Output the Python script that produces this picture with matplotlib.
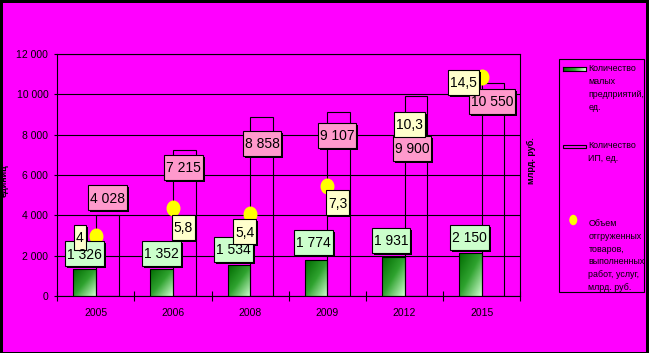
import numpy as np
import matplotlib
matplotlib.use("Agg")
import matplotlib.pyplot as plt
from matplotlib.patches import Rectangle, Ellipse
from matplotlib.colors import LinearSegmentedColormap
from matplotlib.transforms import IdentityTransform, Affine2D
from matplotlib.path import Path

# ---------------- data ----------------
years = ['2005', '2006', '2008', '2009', '2012', '2015']
small_enterprises = [1326, 1352, 1534, 1774, 1931, 2150]
small_labels = ['1 326', '1 352', '1 534', '1 774', '1 931', '2 150']
ip_count = [4028, 7215, 8858, 9107, 9900, 10550]
ip_labels = ['4 028', '7 215', '8 858', '9 107', '9 900', '10 550']
volume = [4.0, 5.8, 5.4, 7.3, 10.3, 14.5]
volume_labels = ['4', '5,8', '5,4', '7,3', '10,3', '14,5']
yticks = [0, 2000, 4000, 6000, 8000, 10000, 12000]
ytick_labels = ['0', '2 000', '4 000', '6 000', '8 000', '10 000', '12 000']

# label offsets (pixels)
small_off = [(0, 14.5), (0, 14.3), (-5.5, 14.8), (-2.2, 17), (-2, 15.8), (-0.5, 14.4)]
ip_off = [(-0.1, 16), (-0.5, -18), (0.4, -27), (-1.8, -24), (-3.8, -53), (-1.1, -19)]
vol_off = [(-16, -2.9), (10.2, -20.1), (-5.5, -18.3), (10.3, -18.2), (4.7, 15.2), (-18.3, -6.5)]

MAG = '#FF00FF'
FONT = ['Liberation Sans Narrow', 'Liberation Sans', 'DejaVu Sans']
plt.rcParams['font.family'] = FONT

W, H = 649, 353
fig = plt.figure(figsize=(W / 100, H / 100), dpi=100, facecolor=MAG)

def fx(px):
    return px / W

def fy(py):
    return 1 - py / H

ax = fig.add_axes([fx(57.3), fy(296), fx(520.3) - fx(57.3), fy(54) - fy(296)])
ax.set_facecolor(MAG)

x = np.arange(len(years))
bw = 0.294
green = ax.bar(x - bw / 2, small_enterprises, width=bw, facecolor='none',
               edgecolor='black', linewidth=0.8, zorder=3)
ipb = ax.bar(x + bw / 2, ip_count, width=bw, facecolor='none',
             edgecolor='black', linewidth=0.8, zorder=3)

# gradient fill for green bars
cmap = LinearSegmentedColormap.from_list('g', ['#006A00', '#2FA32F', '#D2FFD2'])
n = 60
rr, cc = np.mgrid[0:n, 0:n]
grad = (rr + cc) / (2 * (n - 1))
for p in green:
    x0, y0 = p.get_x(), p.get_y()
    im = ax.imshow(grad, cmap=cmap, extent=(x0, x0 + p.get_width(), y0, y0 + p.get_height()),
                   aspect='auto', origin='upper', zorder=2.5, interpolation='bilinear')
    im.set_clip_path(p)

ax.set_xlim(-0.5, len(years) - 0.5)
ax.set_ylim(0, 12000)
ax.set_yticks(yticks)
ax.set_yticklabels(ytick_labels)
ax.set_xticks(x)
ax.set_xticklabels(years)
ax.set_xticks(np.arange(-0.5, len(years), 1.0), minor=True)
ax.tick_params(axis='x', which='major', length=0, pad=9, labelsize=7.5)
ax.tick_params(axis='x', which='minor', length=7, direction='inout', width=0.8)
ax.tick_params(axis='y', length=2.5, width=0.8, pad=4, labelsize=7.5)
ax.yaxis.grid(True, color='black', linewidth=0.8)
ax.set_axisbelow(True)
for s in ax.spines.values():
    s.set_color('black')
    s.set_linewidth(0.8)
ax.set_ylabel('единиц', fontsize=6.5, fontweight='bold')
ax.yaxis.set_label_coords(-0.105, 0.475)

ax2 = ax.twinx()
ax2.set_ylim(0, 16)
ax2.tick_params(right=False, labelright=False)
for s in ax2.spines.values():
    s.set_visible(False)
ax2.set_ylabel('млрд. руб.', fontsize=6.5, fontweight='bold', rotation=90)
ax2.yaxis.set_label_coords(1.014, 0.558)

ell = Path(Affine2D().scale(0.86, 1.0).transform(Path.unit_circle().vertices), Path.unit_circle().codes)
ax2.plot(x, volume, linestyle='none', marker=ell, markersize=10.5,
         markerfacecolor='#FFFF00', markeredgecolor='#FFFF00', zorder=3)

# labels
texts = []
for i in range(len(years)):
    t = ax2.annotate(small_labels[i], xy=(x[i] - bw / 2, small_enterprises[i]), xycoords=ax.transData,
                     xytext=small_off[i], textcoords='offset pixels', ha='center', va='center',
                     fontsize=10, zorder=8, annotation_clip=False)
    texts.append((t, '#CCFFCC'))
    t = ax2.annotate(ip_labels[i], xy=(x[i] + bw / 2, ip_count[i]), xycoords=ax.transData,
                     xytext=ip_off[i], textcoords='offset pixels', ha='center', va='center',
                     fontsize=10, zorder=8, annotation_clip=False)
    texts.append((t, '#FF99CC'))
    t = ax2.annotate(volume_labels[i], xy=(x[i], volume[i]), xycoords=ax2.transData,
                     xytext=vol_off[i], textcoords='offset pixels', ha='center', va='center',
                     fontsize=10, zorder=8, annotation_clip=False)
    texts.append((t, '#FFFFCC'))

# legend (manual)
fig.add_artist(Rectangle((fx(559), fy(291.5)), fx(644) - fx(559), fy(59.3) - fy(291.5),
                         transform=fig.transFigure, facecolor='none', edgecolor='black', linewidth=0.8))
lax = fig.add_axes([fx(563.3), fy(70.7), fx(585.7) - fx(563.3), fy(67.3) - fy(70.7)])
lax.imshow(np.linspace(0, 1, 40)[None, :], cmap=cmap, aspect='auto', interpolation='bilinear')
lax.set_xticks([]); lax.set_yticks([])
for s in lax.spines.values():
    s.set_linewidth(0.8)
fig.add_artist(Rectangle((fx(563.3), fy(148.3)), fx(585.7) - fx(563.3), fy(145) - fy(148.3),
                         transform=fig.transFigure, facecolor=MAG, edgecolor='black', linewidth=0.8))
fig.add_artist(Ellipse((573.3, H - 220), 8, 10.5, transform=IdentityTransform(),
                       facecolor='#FFFF00', edgecolor='none'))
legend_texts = [('Количество\nмалых\nпредприятий,\nед.', 88),
                ('Количество\nИП, ед.', 152.2),
                ('Объем\nотгруженных\nтоваров,\nвыполненных\nработ, услуг,\nмлрд. руб.', 255.5)]
for s, yc in legend_texts:
    fig.text(fx(588.5), fy(yc), s, fontsize=6.4, ha='left', va='center', linespacing=1.56)

# black frame strips
for (px0, py0, px1, py1) in [(0, 0, 3, H), (0, 0, W, 3), (645.5, 0, W, H), (0, 351.5, W, H)]:
    fig.add_artist(Rectangle((fx(px0), fy(py1)), fx(px1) - fx(px0), fy(py0) - fy(py1),
                             transform=fig.transFigure, facecolor='black', edgecolor='none'))

# label boxes
fig.canvas.draw()
r = fig.canvas.get_renderer()
for t, fc in texts:
    bb = t.get_window_extent(r)
    w = bb.width + 4
    h = 25
    cx = (bb.x0 + bb.x1) / 2
    cy = (bb.y0 + bb.y1) / 2 + 1
    sh = Rectangle((cx - w / 2 + 2, cy - h / 2 - 2), w, h, transform=IdentityTransform(),
                   facecolor='black', edgecolor='none', zorder=7, clip_on=False)
    bx = Rectangle((cx - w / 2, cy - h / 2), w, h, transform=IdentityTransform(),
                   facecolor=fc, edgecolor='black', linewidth=0.8, zorder=7.5, clip_on=False)
    ax2.add_artist(sh)
    ax2.add_artist(bx)

fig.savefig('out.png', dpi=100, facecolor=MAG)
